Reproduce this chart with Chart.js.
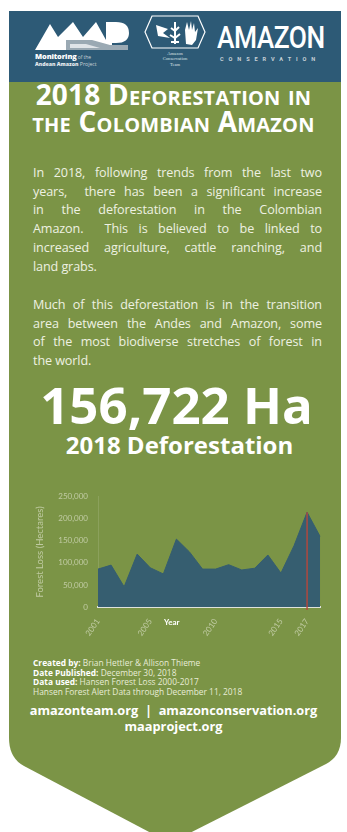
<!DOCTYPE html>
<html>
<head>
<meta charset="utf-8">
<script src="https://cdn.jsdelivr.net/npm/chart.js@4.4.0/dist/chart.umd.min.js"></script>
<style>
  html, body { margin: 0; padding: 0; background: #ffffff; }
  body { width: 347px; height: 832px; position: relative; overflow: hidden; font-family: "Open Sans", sans-serif; color: #f1f3e6; }
  #bg { position: absolute; left: 0; top: 0; }
  .abs { position: absolute; }
  .title { left: 0; width: 347px; text-align: center; font-weight: 700; font-size: 28px; font-variant: small-caps; color: #ffffff; line-height: 27px; letter-spacing: 0.2px; }
  .para { left: 33px; width: 289px; font-family: "Open Sans", sans-serif; font-size: 12.6px; line-height: 18.7px; color: #eef1e2; letter-spacing: -0.1px; }
  .para div { text-align: justify; text-align-last: justify; white-space: nowrap; }
  .para div.last { text-align-last: left; }
  .big { left: 0; width: 347px; text-align: center; font-weight: 700; color: #ffffff; }
  .credits { left: 33px; font-family: "Open Sans", sans-serif; font-size: 8.4px; line-height: 9.6px; color: #e8ecd6; }
  .credits b { color: #ffffff; }
  .links { left: 0; width: 347px; text-align: center; font-weight: 700; color: #ffffff; font-size: 12.8px; line-height: 16px; }
  #chartBox { position: absolute; left: 30px; top: 482px; width: 300px; height: 158px; }
</style>
</head>
<body>
<svg id="bg" width="347" height="832" viewBox="0 0 347 832">
  <path d="M9,11 L341,11 L341,738 Q341,756 326,764 L170,843 L24,766 Q9,758 9,738 Z" fill="#7b9446"/>
  <rect x="9" y="11" width="332" height="71" fill="#2d5a76"/>
  <!-- MAAP logo -->
  <polygon points="35,50 50,24 58,37 73,22 83,37 96,22 106,40 106,50" fill="#ffffff"/>
  <path d="M106,22 L116,22 Q129,22 129,33 Q129,43 116,43 L112,43 L112,50 L106,50 Z" fill="#ffffff"/>
  <polygon points="66,40 92,40 110,45 128,45 128,50 66,50" fill="#9aa9b3"/>
  <polygon points="70,44 86,44 100,48 70,48" fill="#dfe4e8"/>
  <!-- ACT logo -->
  <polygon points="152,16 198,16 205,32 198,48 152,48 145,32" fill="none" stroke="#ffffff" stroke-width="1.2"/>
  <polygon points="156,25 168,29 163,33 170,38 158,36" fill="#ffffff"/>
  <path d="M175,22 L175,44 M171,28 L175,31 L179,27 M170,35 L175,38 L180,34 M171,42 L179,42" stroke="#ffffff" stroke-width="2" fill="none"/>
  <path d="M186,44 L185,30 L187,22 L189,30 L191,21 L192,30 L194,23 L195,32 L198,28 L196,40 L192,45 Z" fill="#ffffff"/>
</svg>

<div class="abs" style="left:35px; top:53px; font-weight:800; font-size:7.4px; color:#ffffff; line-height:7px; letter-spacing:-0.1px;">Monitoring<span style="font-weight:400; font-size:5px; color:#c9d2d8;"> of the</span></div>
<div class="abs" style="left:35px; top:60.5px; font-weight:800; font-size:5.2px; color:#e6eaee; line-height:6px;">Andean Amazon<span style="font-weight:400; color:#c9d2d8;"> Project</span></div>
<div class="abs" style="left:150px; top:51px; width:50px; text-align:center; font-family:'Liberation Serif',serif; font-size:4.6px; line-height:5.4px; color:#dde3e8;">Amazon<br>Conservation<br>Team</div>
<div class="abs" style="left:217px; top:20px; font-family:Roboto, sans-serif; font-weight:500; font-size:31px; line-height:36px; color:#ffffff; letter-spacing:-0.6px; transform:scaleX(0.85); transform-origin:left top;">AMAZON</div>
<div class="abs" style="left:220px; top:56px; font-family:Roboto, sans-serif; font-weight:700; font-size:5.6px; line-height:7px; color:#c9d2d8; letter-spacing:4.9px;">CONSERVATION</div>

<div class="abs title" style="top:81px;">2018 Deforestation in<br>the Colombian Amazon</div>

<div class="abs para" style="top:164px;">
  <div>In 2018, following trends from the last two</div>
  <div>years,&nbsp; there has been a significant increase</div>
  <div>in the deforestation in the Colombian</div>
  <div>Amazon.&nbsp; This is believed to be linked to</div>
  <div>increased agriculture, cattle ranching, and</div>
  <div class="last">land grabs.</div>
</div>
<div class="abs para" style="top:296px;">
  <div>Much of this deforestation is in the transition</div>
  <div>area between the Andes and Amazon, some</div>
  <div>of the most biodiverse stretches of forest in</div>
  <div class="last">the world.</div>
</div>

<div class="abs big" style="top:378px; left:3px; font-size:51px; line-height:52px;">156,722 Ha<br><span style="display:inline-block; margin-left:6px; font-size:24px; line-height:30px; vertical-align:top;">2018 Deforestation</span></div>

<div id="chartBox"><canvas id="lossChart"></canvas></div>
<div class="abs" style="left:164px; top:617px; font-family:Lato, sans-serif; font-weight:700; font-size:8px; line-height:10px; color:#ffffff;">Year</div>

<div class="abs credits" style="top:658px;">
  <div><b>Created by:</b> Brian Hettler &amp; Allison Thieme</div>
  <div><b>Date Published:</b> December 30, 2018</div>
  <div><b>Data used:</b> Hansen Forest Loss 2000-2017</div>
  <div>Hansen Forest Alert Data through December 11, 2018</div>
</div>
<div class="abs links" style="top:702px;">amazonteam.org&nbsp;&nbsp;|&nbsp;&nbsp;amazonconservation.org<br>maaproject.org</div>

<script>
// Yearly forest loss in the Colombian Amazon (hectares)
const years = ['2001', '2002', '2003', '2004', '2005', '2006', '2007', '2008', '2009',
               '2010', '2011', '2012', '2013', '2014', '2015', '2016', '2017', '2018'];
const forestLoss = [86000, 95000, 46000, 120000, 89000, 75000, 154000, 125000, 86000,
                    86000, 96000, 84000, 88000, 118000, 77000, 139000, 215000, 160000];
const shownYears = ['2001', '2005', '2010', '2015', '2017'];
const markerYear = '2017';

// Red marker line drawn at the marker year, from the point down to the axis
const markerLine = {
    id: 'markerLine',
    afterDatasetsDraw(chart) {
        const idx = years.indexOf(markerYear);
        const pt = chart.getDatasetMeta(0).data[idx];
        if (!pt) return;
        const ctx = chart.ctx;
        ctx.save();
        ctx.strokeStyle = '#b8473c';
        ctx.lineWidth = 1.4;
        ctx.beginPath();
        ctx.moveTo(pt.x, pt.y);
        ctx.lineTo(pt.x, chart.chartArea.bottom + 3);
        ctx.stroke();
        ctx.restore();
    }
};

const tickColor = 'rgba(236, 238, 222, 0.6)';

new Chart(document.getElementById('lossChart'), {
    type: 'line',
    data: {
        labels: years,
        datasets: [{
            label: 'Forest Loss',
            data: forestLoss,
            fill: 'origin',
            backgroundColor: '#365e70',
            borderColor: '#365e70',
            borderWidth: 1,
            pointRadius: 0,
            tension: 0
        }]
    },
    options: {
        responsive: true,
        maintainAspectRatio: false,
        animation: false,
        layout: { padding: { top: 8, right: 8, left: 0, bottom: 0 } },
        plugins: {
            legend: { display: false },
            tooltip: { enabled: false }
        },
        scales: {
            x: {
                offset: false,
                grid: { display: false },
                border: { color: '#dfe3dc', width: 2 },
                ticks: {
                    autoSkip: false,
                    minRotation: 55,
                    maxRotation: 55,
                    padding: 2,
                    color: tickColor,
                    font: { family: 'Lato', size: 8 },
                    callback: function(value) {
                        const lbl = this.getLabelForValue(value);
                        return shownYears.includes(lbl) ? lbl : '';
                    }
                },
                afterFit: function(scale) { scale.height = 33; }
            },
            y: {
                min: 0,
                max: 250000,
                grid: { display: false, drawTicks: false },
                border: { color: 'rgba(255,255,255,0.12)', width: 1 },
                ticks: {
                    stepSize: 50000,
                    padding: 10,
                    color: tickColor,
                    font: { family: 'Lato', size: 8 },
                    callback: function(value) { return value.toLocaleString('en-US'); }
                },
                title: {
                    display: true,
                    text: 'Forest Loss (Hectares)',
                    color: tickColor,
                    font: { family: 'Lato', size: 9.5 },
                    padding: { top: 4, bottom: 0 }
                },
                afterFit: function(scale) { scale.width = 68; }
            }
        }
    },
    plugins: [markerLine]
});
</script>
</body>
</html>
